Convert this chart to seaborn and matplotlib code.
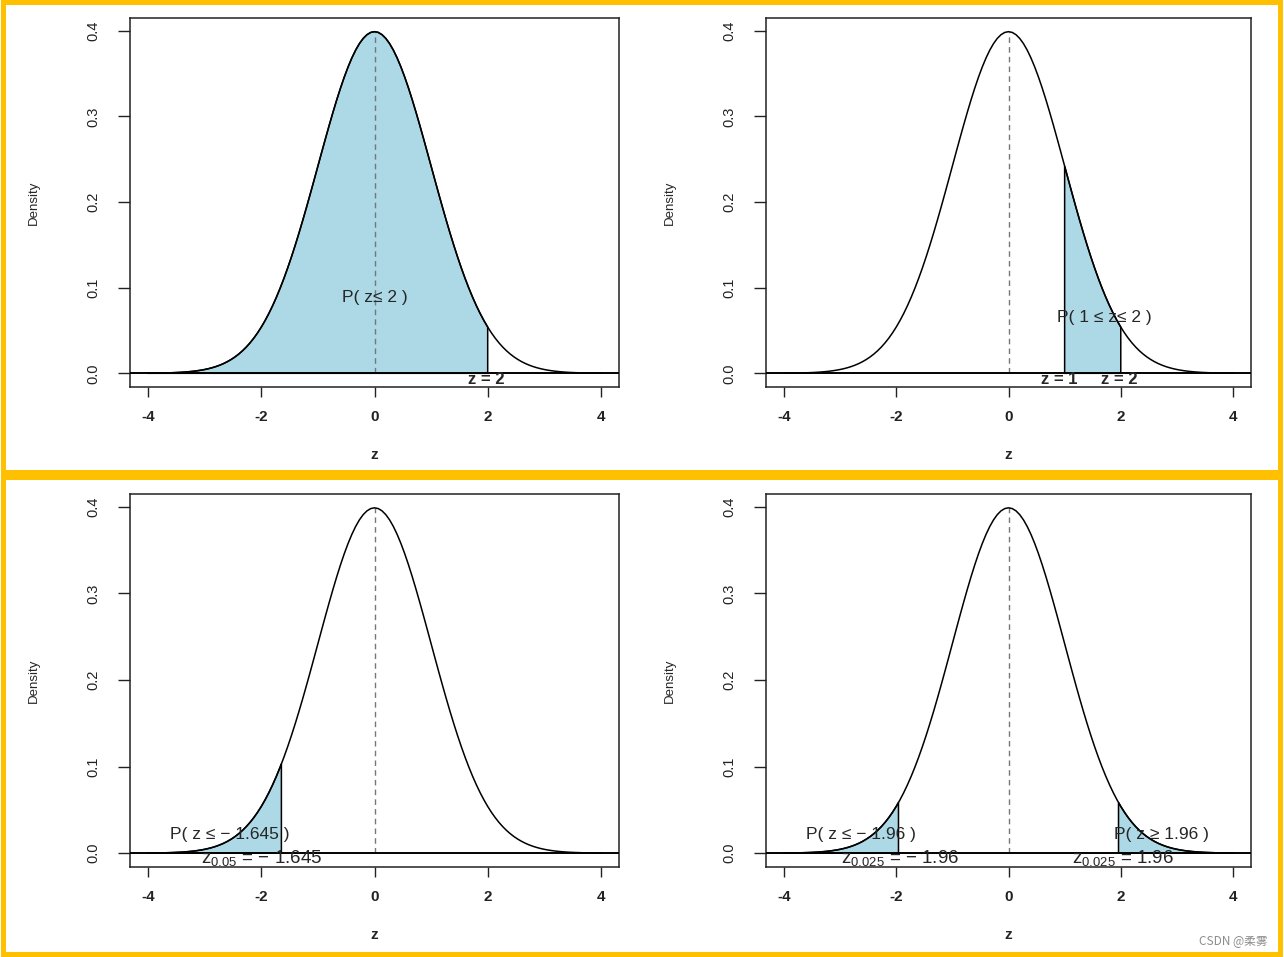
import numpy as np
import pandas as pd
import matplotlib
matplotlib.use("Agg")
import matplotlib.pyplot as plt
import seaborn as sns
from matplotlib.patches import Rectangle

sns.set_theme(style="ticks")
plt.rcParams['font.family'] = ['Liberation Sans', 'DejaVu Sans']
plt.rcParams['mathtext.fontset'] = 'custom'
plt.rcParams['mathtext.rm'] = 'Liberation Sans'
plt.rcParams['mathtext.it'] = 'Liberation Sans'

# ---------------- data ----------------
z_range = [-4, 4]
x_ticks = [-4, -2, 0, 2, 4]
y_ticks = [0.0, 0.1, 0.2, 0.3, 0.4]
y_tick_labels = ["0.0", "0.1", "0.2", "0.3", "0.4"]

# shaded intervals per panel (standard normal areas)
shade_p1 = [(-4, 2)]
shade_p2 = [(1, 2)]
shade_p3 = [(-4, -1.645)]
shade_p4 = [(-4, -1.96), (1.96, 4)]

# annotation texts per panel
text_p1 = ["P( z≤ 2 )", "z = 2"]
text_p2 = ["P( 1 ≤ z≤ 2 )", "z = 1", "z = 2"]
text_p3 = ["P( z ≤ − 1.645 )", r"$\mathregular{z_{0.05}}$ = − 1.645"]
text_p4 = ["P( z ≤ − 1.96 )", "P( z ≥ 1.96 )",
           r"$\mathregular{z_{0.025}}$ = − 1.96", r"$\mathregular{z_{0.025}}$ = 1.96"]

# standard normal density curve (the function the chart depicts)
z_grid = np.linspace(z_range[0], z_range[1], 121)
density = np.exp(-z_grid ** 2 / 2) / np.sqrt(2 * np.pi)
curve = pd.DataFrame({"z": z_grid, "Density": density})

W, H = 1284, 957
fig = plt.figure(figsize=(W / 100, H / 100), dpi=100)
fig.patch.set_facecolor("white")

def box(l, t, r, b):
    return [l / W, 1 - b / H, (r - l) / W, (b - t) / H]

panels = [
    (box(130, 18, 619, 387), shade_p1),
    (box(766, 18, 1251, 387), shade_p2),
    (box(130, 494, 619, 867), shade_p3),
    (box(766, 494, 1251, 867), shade_p4),
]

light = "#ADD8E6"
axes = []
for rect, shades in panels:
    ax = fig.add_axes(rect)
    axes.append(ax)
    for a, b in shades:
        m = (curve["z"] > a) & (curve["z"] < b)
        xs = np.concatenate([[a, a], curve["z"][m].values, [b, b]])
        fa = np.exp(-a ** 2 / 2) / np.sqrt(2 * np.pi)
        fb = np.exp(-b ** 2 / 2) / np.sqrt(2 * np.pi)
        ys = np.concatenate([[0, fa], curve["Density"][m].values, [fb, 0]])
        ax.fill(xs, ys, facecolor=light, edgecolor="black", lw=1.1, zorder=1)
    sns.lineplot(data=curve, x="z", y="Density", ax=ax, color="black", lw=1.1,
                 zorder=3, sort=False, estimator=None)
    ax.axhline(0, color="black", lw=1.4, zorder=4)
    ax.plot([0, 0], [0, curve["Density"].max()], color="#777777", lw=1.0,
            ls=(0, (4, 3)), zorder=2)
    ax.set_xlim(-4.32, 4.32)
    ax.set_ylim(-0.016, 0.4149)
    ax.set_xticks(x_ticks)
    ax.set_xticklabels([str(v) for v in x_ticks])
    ax.set_yticks(y_ticks)
    ax.set_yticklabels(y_tick_labels, rotation=90, va="center")
    ax.tick_params(axis="x", length=7.5, width=1.0, pad=9, labelsize=11,
                   colors="#222222")
    ax.tick_params(axis="y", length=9, width=1.0, pad=12, labelsize=10.5,
                   colors="#222222")
    for lab in ax.get_xticklabels():
        lab.set_fontweight("bold")
    for s in ax.spines.values():
        s.set_linewidth(1.1)
        s.set_color("#222222")
        s.set_visible(True)
    ax.set_xlabel("z", fontsize=11, fontweight="bold", labelpad=17)
    ax.set_ylabel("Density", fontsize=9.5, labelpad=34)
    ax.set_facecolor("white")

fs = 12.5
fz = 12
ax1, ax2, ax3, ax4 = axes
ax1.text(0, 0.088, text_p1[0], ha="center", va="center", fontsize=fs, zorder=5)
ax1.text(1.97, -0.0075, text_p1[1], ha="center", va="center", fontsize=fz,
         fontweight="bold", zorder=5, clip_on=True)

ax2.text(1.71, 0.065, text_p2[0], ha="center", va="center", fontsize=fs, zorder=5)
ax2.text(0.9, -0.0075, text_p2[1], ha="center", va="center", fontsize=fz,
         fontweight="bold", zorder=5, clip_on=True)
ax2.text(1.97, -0.0075, text_p2[2], ha="center", va="center", fontsize=fz,
         fontweight="bold", zorder=5, clip_on=True)

ax3.text(-2.56, 0.022, text_p3[0], ha="center", va="center", fontsize=fs, zorder=5)
ax3.text(-2.0, -0.006, text_p3[1], ha="center", va="center", fontsize=13.5,
         zorder=5, clip_on=True)

ax4.text(-2.63, 0.022, text_p4[0], ha="center", va="center", fontsize=fs, zorder=5)
ax4.text(2.73, 0.022, text_p4[1], ha="center", va="center", fontsize=fs, zorder=5)
ax4.text(-1.94, -0.006, text_p4[2], ha="center", va="center", fontsize=13.5,
         zorder=5, clip_on=True)
ax4.text(2.04, -0.006, text_p4[3], ha="center", va="center", fontsize=13.5,
         zorder=5, clip_on=True)

# orange frames around the two rows
orange = "#FFC000"
for (x0, y0, x1, y1) in [(2.5, 2.5, 1279.5, 471.5), (2.5, 476.5, 1279.5, 954)]:
    fig.patches.append(Rectangle((x0 / W, 1 - y1 / H), (x1 - x0) / W, (y1 - y0) / H,
                                 transform=fig.transFigure, fill=False,
                                 edgecolor=orange, lw=3.6, zorder=10))

fig.text(1268 / W, 1 - 942 / H, "CSDN @柔雾", ha="right", va="center",
         color="#8c8c8c", fontsize=8.5,
         family=["Noto Sans CJK SC", "DejaVu Sans"])

fig.savefig("out.png", dpi=100)
